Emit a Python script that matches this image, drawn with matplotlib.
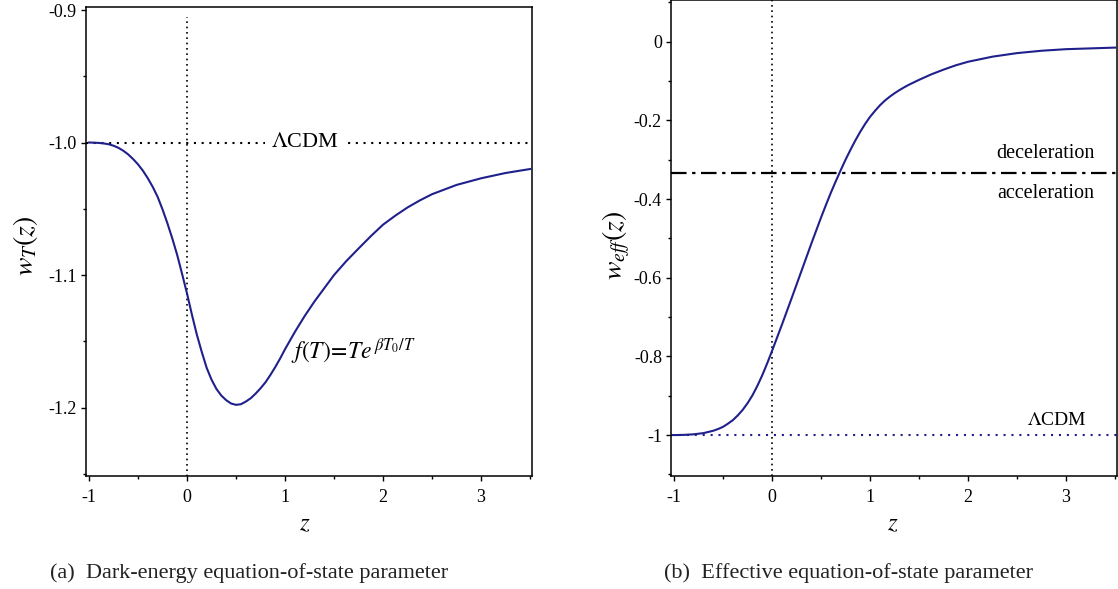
import numpy as np
import matplotlib
matplotlib.use('Agg')
import matplotlib.pyplot as plt
from matplotlib.ticker import FixedLocator, FixedFormatter, MultipleLocator

plt.rcParams['font.family'] = ['Liberation Serif', 'DejaVu Serif']
plt.rcParams['mathtext.fontset'] = 'stix'

# valores
z_a = [-1.0, -0.95, -0.9, -0.85, -0.8, -0.75, -0.7, -0.65, -0.6, -0.55,
       -0.5, -0.45, -0.4, -0.35, -0.3, -0.25, -0.2, -0.15, -0.1, -0.05, 0.0,
       0.05, 0.1, 0.15, 0.2, 0.25, 0.3, 0.35, 0.4, 0.45, 0.5, 0.55, 0.6,
       0.65, 0.7, 0.75, 0.8, 0.85, 0.9, 0.95, 1.0, 1.1, 1.2, 1.3, 1.4, 1.5,
       1.625, 1.75, 1.875, 2.0, 2.125, 2.25, 2.375, 2.5, 2.75, 3.0, 3.25, 3.5]
w_T = [-1.000, -1.0001, -1.0003, -1.0007, -1.0013, -1.0024, -1.004, -1.0062,
       -1.009, -1.0125, -1.0165, -1.0213, -1.027, -1.0335, -1.041, -1.0505,
       -1.061, -1.0725, -1.085, -1.0993, -1.114,
       -1.130, -1.145, -1.158, -1.170, -1.179, -1.186, -1.191, -1.1945,
       -1.197, -1.198, -1.1975, -1.1955,
       -1.193, -1.1895, -1.1855, -1.181, -1.1755, -1.1695, -1.163, -1.156,
       -1.143, -1.131, -1.120, -1.110, -1.100,
       -1.0895, -1.080, -1.0707, -1.062, -1.0552, -1.049, -1.0437, -1.039,
       -1.032, -1.027, -1.023, -1.020]

z_b = [-1.0, -0.9, -0.8, -0.7, -0.6, -0.55, -0.5, -0.45, -0.4, -0.35, -0.3,
       -0.25, -0.2, -0.15, -0.1, -0.05, 0.0, 0.05, 0.1, 0.2, 0.3, 0.4, 0.5,
       0.55, 0.6, 0.65, 0.7, 0.75, 0.8, 0.85, 0.9, 0.95, 1.0, 1.05, 1.1,
       1.15, 1.2, 1.25, 1.3, 1.35, 1.4, 1.5, 1.625, 1.75, 1.875, 2.0, 2.25,
       2.5, 2.75, 3.0, 3.25, 3.5]
w_eff = [-1.000, -0.9995, -0.998, -0.995, -0.989, -0.9845, -0.979, -0.971,
         -0.962, -0.950, -0.936, -0.919, -0.899, -0.875, -0.848, -0.818,
         -0.786, -0.753, -0.720, -0.652, -0.583, -0.514, -0.447,
         -0.415, -0.384, -0.355, -0.327, -0.300, -0.275, -0.251, -0.229,
         -0.209, -0.191, -0.176, -0.162, -0.150, -0.140, -0.131, -0.123,
         -0.1157, -0.109, -0.097, -0.083, -0.071, -0.060, -0.051, -0.038,
         -0.029, -0.023, -0.019, -0.017, -0.015]

w_lcdm = -1.0
w_acc = -1.0 / 3.0

x_ticks = [-1, 0, 1, 2, 3]
x_labels = ['-1', '0', '1', '2', '3']
ya_ticks = [-0.9, -1.0, -1.1, -1.2]
ya_labels = ['-0.9', '-1.0', '-1.1', '-1.2']
yb_ticks = [0, -0.2, -0.4, -0.6, -0.8, -1]
yb_labels = ['0', '-0.2', '-0.4', '-0.6', '-0.8', '-1']

azul = '#20208c'

fig = plt.figure(figsize=(11.18, 5.89), dpi=100)
ax1 = fig.add_axes([86/1118, 1-476/589, 446/1118, 469/589])
ax2 = fig.add_axes([671/1118, 1-476/589, 446/1118, 476/589])

def estilo(ax):
    for s in ax.spines.values():
        s.set_linewidth(1.1)
    ax.tick_params(which='both', direction='out', top=False, right=False,
                   labelsize=13, width=1.0)
    ax.tick_params(which='major', length=3.5)
    ax.tick_params(which='minor', length=2.2)
    ax.tick_params(axis='x', pad=6)
    ax.tick_params(axis='y', pad=3)
    ax.xaxis.set_major_locator(FixedLocator(x_ticks))
    ax.xaxis.set_major_formatter(FixedFormatter(x_labels))
    ax.xaxis.set_minor_locator(MultipleLocator(0.5))
    ax.set_xlim(-1.031, 3.52)
    ax.set_xlabel('$z$', fontsize=18)

# (a)
ax1.plot(z_a, w_T, color=azul, lw=1.5, zorder=3)
ax1.axhline(w_lcdm, color='k', ls=(0, (1, 2.7)), lw=1.5, zorder=1)
ax1.plot([0, 0], [-1.26, -0.905], color='k', ls=(0, (1, 2.2)), lw=1.2, zorder=1)
ax1.text(1.2, w_lcdm, r'$\Lambda$CDM', fontsize=16, ha='center', va='center',
         bbox=dict(facecolor='white', edgecolor='none', pad=4), zorder=2)
ax1.text(1.06, -1.163, r'$f(T)\!=\!Te^{\,\beta T_0/T}$', fontsize=17,
         ha='left', va='baseline')
ax1.set_ylim(-1.2517, -0.8977)
ax1.yaxis.set_major_locator(FixedLocator(ya_ticks))
ax1.yaxis.set_major_formatter(FixedFormatter(ya_labels))
ax1.yaxis.set_minor_locator(MultipleLocator(0.05))
estilo(ax1)
ax1.set_ylabel(r'$w_T(z)$', fontsize=20)
ax1.yaxis.set_label_coords(-0.103, 0.49)
ax1.xaxis.set_label_coords(0.49, -0.079)

# (b)
ax2.plot(z_b, w_eff, color=azul, lw=1.5, zorder=3)
ax2.axhline(w_lcdm, color=azul, ls=(0, (1, 2.8)), lw=1.5, zorder=1)
ax2.axhline(w_acc, color='k', ls=(0, (7, 2.5, 1.5, 2.5)), lw=1.6, zorder=2)
ax2.axvline(0, color='k', ls=(0, (1, 2.2)), lw=1.2, zorder=1)
ax2.text(2.91, -0.985, r'$\Lambda$CDM', fontsize=14, ha='center', va='bottom')
ax2.text(2.79, -0.295, 'deceleration', fontsize=14.5, ha='center', va='baseline')
ax2.text(2.79, -0.397, 'acceleration', fontsize=14.5, ha='center', va='baseline')
ax2.set_ylim(-1.104, 0.106)
ax2.yaxis.set_major_locator(FixedLocator(yb_ticks))
ax2.yaxis.set_major_formatter(FixedFormatter(yb_labels))
ax2.yaxis.set_minor_locator(MultipleLocator(0.1))
estilo(ax2)
ax2.set_ylabel(r'$w_{eff}(z)$', fontsize=20)
ax2.yaxis.set_label_coords(-0.087, 0.485)
ax2.xaxis.set_label_coords(0.498, -0.079)

fig.text(249/1118, 1-573/589, '(a)  Dark-energy equation-of-state parameter',
         fontsize=16, ha='center', va='center', color='#222222')
fig.text(848/1118, 1-573/589, '(b)  Effective equation-of-state parameter',
         fontsize=16, ha='center', va='center', color='#222222')

fig.savefig('out.png', dpi=100)
